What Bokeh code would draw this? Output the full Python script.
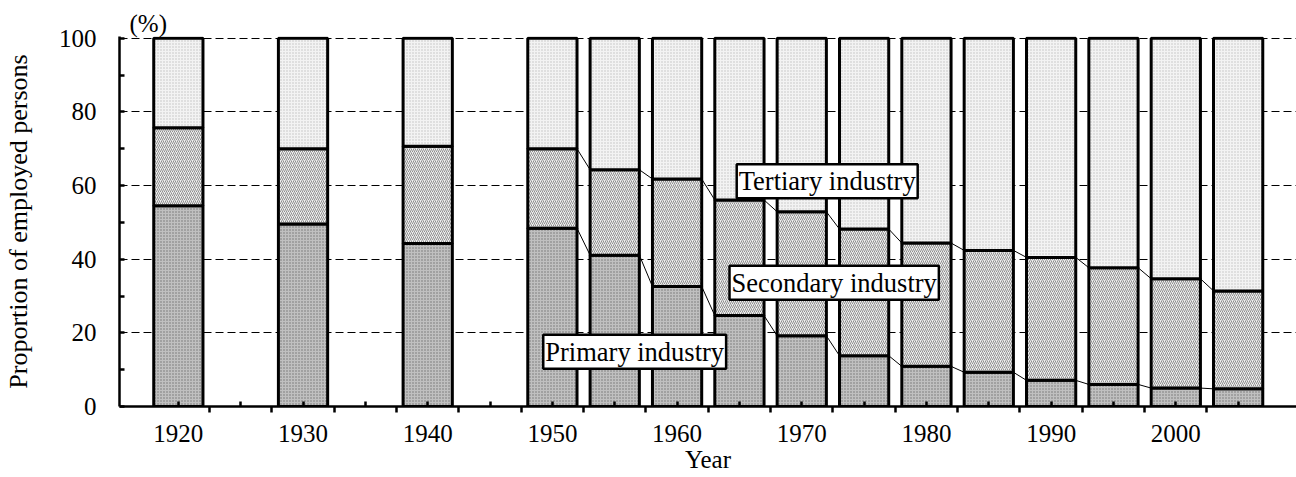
from bokeh.plotting import figure
from bokeh.models import Range1d, FixedTicker, Label, ColumnDataSource
from bokeh.embed import file_html
from bokeh.resources import INLINE

# ---- data ----
years = [1920, 1930, 1940, 1950, 1955, 1960, 1965, 1970, 1975, 1980, 1985, 1990, 1995, 2000, 2005]
primary = [54.5, 49.6, 44.3, 48.4, 41.1, 32.6, 24.7, 19.2, 13.8, 10.9, 9.3, 7.1, 6.0, 5.0, 4.8]
secondary = [21.2, 20.4, 26.4, 21.6, 23.2, 29.2, 31.4, 33.7, 34.4, 33.5, 33.1, 33.4, 31.7, 29.7, 26.6]
tertiary = [round(100 - a - b, 1) for a, b in zip(primary, secondary)]
x_label_years = [1920, 1930, 1940, 1950, 1960, 1970, 1980, 1990, 2000]
x_tick_labels = ["1920", "1930", "1940", "1950", "1960", "1970", "1980", "1990", "2000"]
y_ticks = [0, 20, 40, 60, 80, 100]

FONT = "Liberation Serif"
W = 3.95  # bar width in years

p = figure(width=1296, height=477, output_backend="svg", toolbar_location=None,
           x_range=Range1d(1915.28, 2009.68), y_range=Range1d(0, 100.5),
           min_border_left=116, min_border_right=0, min_border_top=36, min_border_bottom=71)
p.outline_line_color = None
p.background_fill_color = "white"

p.title.text = "(%)"
p.title.align = "left"
p.title.offset = 10
p.title.text_font = FONT
p.title.text_font_size = "25px"
p.title.text_font_style = "normal"
p.title.text_color = "black"
p.title.standoff = 0

# grid
p.xgrid.visible = False
p.ygrid.ticker = FixedTicker(ticks=[20, 40, 60, 80, 100])
p.ygrid.grid_line_color = "black"
p.ygrid.grid_line_dash = "8 4"
p.ygrid.grid_line_width = 1

# connectors (from 1950 onward, consecutive 5-year bars)
cum1 = primary
cum2 = [a + b for a, b in zip(primary, secondary)]
x0, x1, ya0, ya1, yb0, yb1 = [], [], [], [], [], []
for i in range(len(years) - 1):
    if years[i] >= 1950 and years[i + 1] - years[i] == 5:
        x0.append(years[i] + W / 2)
        x1.append(years[i + 1] - W / 2)
        ya0.append(cum1[i]); ya1.append(cum1[i + 1])
        yb0.append(cum2[i]); yb1.append(cum2[i + 1])
p.segment(x0=x0, y0=ya0, x1=x1, y1=ya1, line_color="black", line_width=1)
p.segment(x0=x0, y0=yb0, x1=x1, y1=yb1, line_color="black", line_width=1)

src = ColumnDataSource(dict(x=years, primary=primary, secondary=secondary, tertiary=tertiary))
p.vbar_stack(["primary", "secondary", "tertiary"], x="x", width=W, source=src,
             fill_color=["#c0c0c0", "#eeeeee", "#f3f3f3"],
             line_color="black", line_width=3,
             hatch_pattern=["dot", "right_diagonal_line", "dot"],
             hatch_color=["#737373", "#8f8f8f", "#c0c0c0"],
             hatch_scale=[3, 4, 3], hatch_weight=[1, 1, 1])

# axes
xa = p.xaxis[0]
ticks = list(range(1920, 2006, 5))
minor = [t + 2.5 for t in range(1920, 2001, 5)]
xa.ticker = FixedTicker(ticks=ticks, minor_ticks=minor)
overrides = {t: "" for t in ticks}
for yv, lab in zip(x_label_years, x_tick_labels):
    overrides[yv] = lab
xa.major_label_overrides = overrides
xa.major_tick_in = 5
xa.major_tick_out = 0
xa.minor_tick_in = 0
xa.minor_tick_out = 6
xa.major_tick_line_width = 2.5
xa.minor_tick_line_width = 2.5
xa.axis_line_width = 2.5
xa.major_label_text_font = FONT
xa.major_label_text_font_size = "25px"
xa.major_label_text_color = "black"
xa.major_label_standoff = 12
xa.axis_label = "Year"
xa.axis_label_text_font = FONT
xa.axis_label_text_font_size = "25px"
xa.axis_label_text_font_style = "normal"
xa.axis_label_text_color = "black"
xa.axis_label_standoff = 1

ya = p.yaxis[0]
ya.ticker = FixedTicker(ticks=y_ticks, minor_ticks=[10, 30, 50, 70, 90])
ya.major_tick_in = 5
ya.major_tick_out = 0
ya.minor_tick_in = 5
ya.minor_tick_out = 0
ya.major_tick_line_width = 2.5
ya.minor_tick_line_width = 2.5
ya.axis_line_width = 2.5
ya.major_label_text_font = FONT
ya.major_label_text_font_size = "25px"
ya.major_label_text_color = "black"
ya.major_label_standoff = 23
ya.axis_label = "Proportion of employed persons"
ya.axis_label_text_font = FONT
ya.axis_label_text_font_size = "26px"
ya.axis_label_text_font_style = "normal"
ya.axis_label_text_color = "black"
ya.axis_label_standoff = 23

# labels
def box_label(x, y, text):
    p.add_layout(Label(x=x, y=y, text=text, text_font=FONT, text_font_size="26.5px",
                       text_color="black",
                       text_align="center", text_baseline="middle",
                       background_fill_color="white", border_line_color="black",
                       border_line_width=2.5, padding=2))

box_label(1972.04, 61.2, "Tertiary industry")
box_label(1972.6, 33.6, "Secondary industry")
box_label(1956.6, 14.9, "Primary industry")

open("out.html", "w").write(file_html(p, INLINE))
